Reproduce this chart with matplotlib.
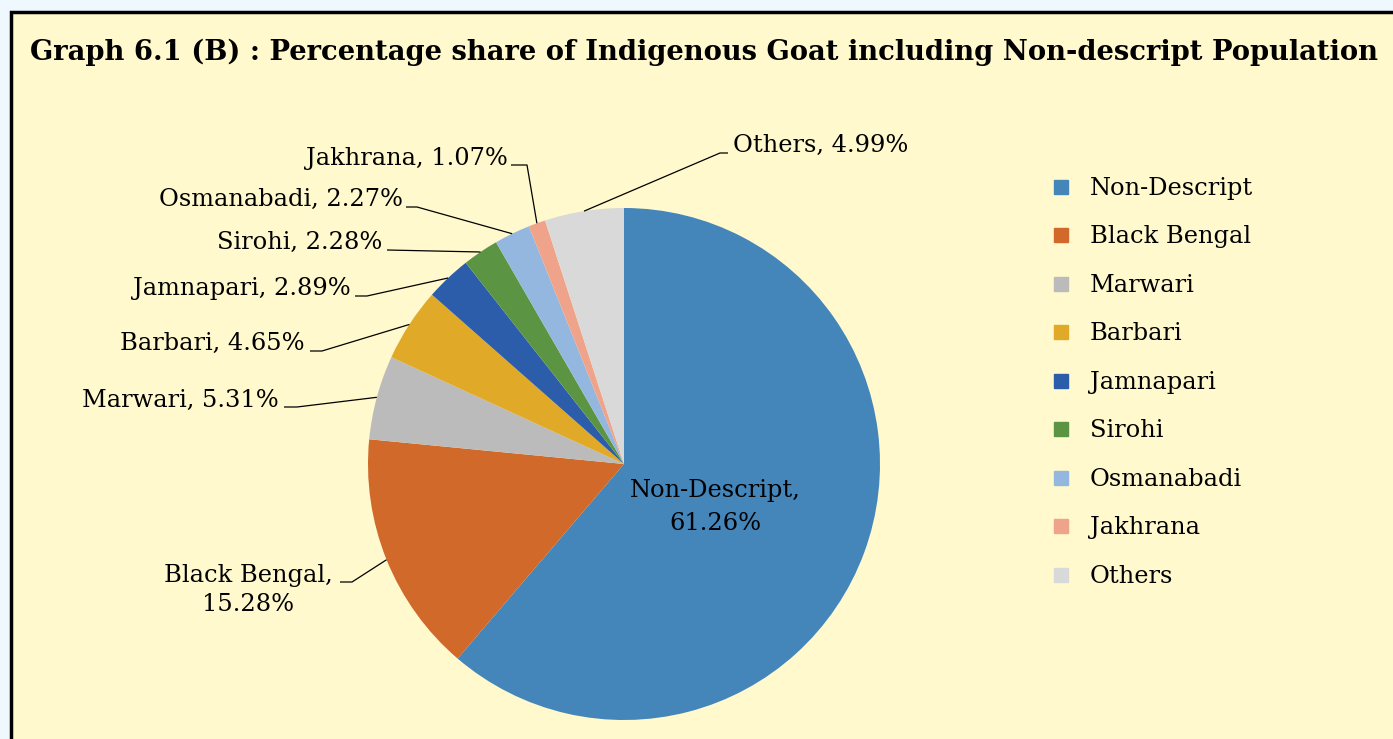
import numpy as np
import matplotlib.pyplot as plt
from matplotlib.patches import Rectangle
from matplotlib.lines import Line2D

# breed shares (%), clockwise from 12 o'clock
breeds = ['Non-Descript', 'Black Bengal', 'Marwari', 'Barbari', 'Jamnapari',
          'Sirohi', 'Osmanabadi', 'Jakhrana', 'Others']
shares = [61.26, 15.28, 5.31, 4.65, 2.89, 2.28, 2.27, 1.07, 4.99]
colors = ['#4485BA', '#D0692A', '#BBBBBB', '#E0A927', '#2C5DAA',
          '#5B9543', '#94B7E0', '#F0A38B', '#D9D9D9']

W, H = 1393, 739
BG = '#FFF9CD'
FONT = 'DejaVu Serif'

def py(y):
    # pixel row from top -> data y
    return H - y

fig = plt.figure(figsize=(W / 100, H / 100), dpi=100, facecolor='#F0F8FF')
ax = fig.add_axes([0, 0, 1, 1])

# yellow panel with black frame (runs off the right/bottom edges)
ax.add_patch(Rectangle((11, -30), W + 50, py(12) + 30, facecolor=BG,
                       edgecolor='black', linewidth=2.5, zorder=0))

cx, cy, r = 624, py(464), 256
ax.pie(shares, colors=colors, startangle=90, counterclock=False,
       center=(cx, cy), radius=r, wedgeprops=dict(linewidth=0))

ax.set_xlim(0, W)
ax.set_ylim(0, H)
ax.set_aspect('equal')
ax.axis('off')

# wedge mid points on the rim, for leader lines
vals = np.array(shares)
mid = (np.cumsum(vals) - vals / 2) / vals.sum() * 2 * np.pi
rim_x = cx + r * np.sin(mid)
rim_y = cy + r * np.cos(mid)

# outside labels: (index, text x, text y, ha, line start x, elbow x, line y)
fs = 17.4
outside = [
    (1, 248, 590, 'center', 340, 352, 582),
    (2, 279, 400, 'right', 284, 297, 407),
    (3, 305, 343, 'right', 310, 322, 351),
    (4, 351, 289, 'right', 355, 367, 296),
    (5, 382, 242, 'right', 387, 387, 250),
    (6, 403, 199, 'right', 406, 417, 207),
    (7, 508, 159, 'right', 511, 527, 165),
    (8, 733, 145, 'left', 728, 720, 153),
]
for i, tx, ty, ha, lx, ex, ly in outside:
    if i == 1:
        txt = f'{breeds[i]},\n{shares[i]:.2f}%'
    else:
        txt = f'{breeds[i]}, {shares[i]:.2f}%'
    ax.text(tx, py(ty), txt, ha=ha, va='center', fontsize=fs, family=FONT,
            linespacing=1.38)
    ax.plot([lx, ex, rim_x[i]], [py(ly), py(ly), rim_y[i]], color='black',
            linewidth=0.9, solid_capstyle='butt')

ax.text(715, py(507), f'{breeds[0]},\n{shares[0]:.2f}%', ha='center',
        va='center', fontsize=fs, family=FONT, linespacing=1.5)

ax.text(30, py(52),
        'Graph 6.1 (B) : Percentage share of Indigenous Goat including Non-descript Population',
        ha='left', va='center', fontsize=19.7, family=FONT, fontweight='bold')

handles = [Line2D([], [], marker='s', linestyle='', markersize=9.5,
                  markerfacecolor=c, markeredgecolor=c) for c in colors]
ax.legend(handles, breeds, loc='upper left', bbox_to_anchor=(1054, py(177)),
          bbox_transform=ax.transData, frameon=False, borderpad=0,
          borderaxespad=0, handlelength=0.54, handletextpad=0.95,
          labelspacing=1.055, prop={'family': FONT, 'size': fs})

plt.savefig('out.png', dpi=100, facecolor=fig.get_facecolor())
